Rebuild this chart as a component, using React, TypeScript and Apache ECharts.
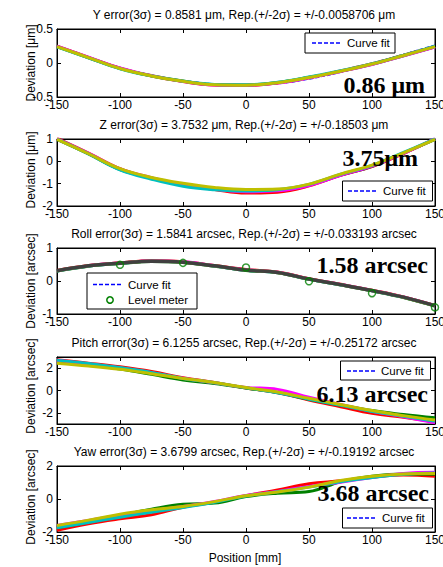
import React, { useEffect, useRef } from "react";
import * as echarts from "echarts";

// ---------- data ----------
const positions = [-150, -125, -100, -75, -50, -25, 0, 25, 50, 75, 100, 125, 150];

const yRed = [0.246, 0.083, -0.076, -0.193, -0.274, -0.324, -0.33, -0.294, -0.216, -0.117, -0.012, 0.113, 0.24];
const yGreen = [0.24, 0.077, -0.082, -0.187, -0.266, -0.317, -0.322, -0.287, -0.21, -0.123, -0.018, 0.107, 0.238];
const yMagenta = [0.248, 0.085, -0.074, -0.185, -0.272, -0.323, -0.329, -0.296, -0.219, -0.125, -0.021, 0.104, 0.236];
const yCyan = [0.238, 0.075, -0.085, -0.192, -0.268, -0.315, -0.32, -0.284, -0.207, -0.115, -0.009, 0.115, 0.246];
const yOlive = [0.242, 0.08, -0.08, -0.19, -0.27, -0.32, -0.326, -0.29, -0.213, -0.12, -0.015, 0.11, 0.241];
const yFit = [0.255, 0.09, -0.066, -0.18, -0.258, -0.308, -0.326, -0.305, -0.235, -0.135, -0.01, 0.125, 0.262];

const zRed = [1.03, 0.37, -0.33, -0.76, -1.05, -1.26, -1.42, -1.38, -1.1, -0.63, -0.24, 0.35, 1.0];
const zGreen = [0.98, 0.33, -0.37, -0.74, -1.03, -1.22, -1.32, -1.3, -1.06, -0.62, -0.22, 0.37, 0.98];
const zMagenta = [1.01, 0.36, -0.34, -0.73, -1.06, -1.25, -1.36, -1.32, -1.08, -0.63, -0.21, 0.36, 1.02];
const zCyan = [0.99, 0.33, -0.38, -0.8, -1.12, -1.27, -1.33, -1.27, -1.03, -0.58, -0.18, 0.4, 1.0];
const zOlive = [0.98, 0.34, -0.33, -0.72, -0.98, -1.17, -1.26, -1.24, -1.02, -0.57, -0.17, 0.38, 0.98];
const zFit = [1.02, 0.36, -0.33, -0.76, -1.05, -1.24, -1.32, -1.29, -1.07, -0.62, -0.22, 0.37, 1.0];

const rollRed = [0.32, 0.47, 0.55, 0.61, 0.58, 0.47, 0.35, 0.27, 0.07, -0.1, -0.28, -0.48, -0.74];
const rollGreen = [0.3, 0.45, 0.53, 0.59, 0.56, 0.45, 0.32, 0.25, 0.05, -0.12, -0.3, -0.5, -0.76];
const rollMagenta = [0.315, 0.465, 0.545, 0.605, 0.58, 0.465, 0.34, 0.265, 0.065, -0.105, -0.285, -0.485, -0.745];
const rollCyan = [0.305, 0.455, 0.535, 0.595, 0.565, 0.455, 0.325, 0.255, 0.055, -0.115, -0.295, -0.495, -0.755];
const rollOlive = [0.31, 0.46, 0.54, 0.6, 0.57, 0.46, 0.33, 0.26, 0.06, -0.11, -0.29, -0.49, -0.75];
const rollGray = [0.31, 0.46, 0.54, 0.6, 0.57, 0.46, 0.33, 0.26, 0.06, -0.11, -0.29, -0.49, -0.75];
const rollFit = [0.3, 0.45, 0.55, 0.59, 0.56, 0.47, 0.34, 0.24, 0.07, -0.12, -0.3, -0.5, -0.74];
const levelPositions = [-100, -50, 0, 50, 100, 150];
const levelMeter = [0.49, 0.55, 0.41, -0.01, -0.37, -0.8];

const pitchRed = [2.75, 2.45, 2.12, 1.7, 1.15, 0.72, 0.22, -0.2, -0.85, -1.45, -2.05, -2.4, -2.8];
const pitchGreen = [2.6, 2.3, 1.92, 1.45, 0.95, 0.62, 0.22, -0.18, -0.78, -1.3, -1.8, -2.15, -2.45];
const pitchMagenta = [2.7, 2.38, 2.02, 1.6, 1.1, 0.7, 0.28, 0.1, -0.6, -1.25, -1.85, -2.35, -2.9];
const pitchCyan = [2.72, 2.42, 2.05, 1.62, 1.08, 0.7, 0.24, -0.2, -0.78, -1.32, -1.88, -2.3, -2.75];
const pitchOlive = [2.45, 2.2, 1.9, 1.5, 1.08, 0.72, 0.26, -0.14, -0.7, -1.25, -1.8, -2.25, -2.65];
const pitchFit = [2.7, 2.36, 1.98, 1.58, 1.12, 0.7, 0.25, -0.2, -0.72, -1.28, -1.84, -2.3, -2.72];

const yawRed = [-1.9, -1.5, -1.2, -0.95, -0.5, -0.2, 0.2, 0.55, 0.92, 1.1, 1.32, 1.45, 1.38];
const yawGreen = [-1.75, -1.4, -1.0, -0.62, -0.32, -0.25, 0.15, 0.35, 0.45, 1.05, 1.38, 1.52, 1.5];
const yawMagenta = [-1.6, -1.3, -0.98, -0.7, -0.45, -0.15, 0.22, 0.46, 0.76, 1.02, 1.3, 1.55, 1.62];
const yawCyan = [-1.75, -1.42, -1.1, -0.8, -0.52, -0.2, 0.18, 0.44, 0.72, 1.05, 1.3, 1.5, 1.58];
const yawOlive = [-1.6, -1.28, -0.92, -0.65, -0.45, -0.16, 0.2, 0.42, 0.72, 1.12, 1.38, 1.52, 1.55];
const yawFit = [-1.7, -1.35, -1.0, -0.7, -0.44, -0.15, 0.2, 0.46, 0.76, 1.08, 1.34, 1.52, 1.58];

const titles = [
  "Y error(3σ) = 0.8581 μm, Rep.(+/-2σ) = +/-0.0058706 μm",
  "Z error(3σ) = 3.7532 μm, Rep.(+/-2σ) = +/-0.18503 μm",
  "Roll error(3σ) = 1.5841 arcsec, Rep.(+/-2σ) = +/-0.033193 arcsec",
  "Pitch error(3σ) = 6.1255 arcsec, Rep.(+/-2σ) = +/-0.25172 arcsec",
  "Yaw error(3σ) = 3.6799 arcsec, Rep.(+/-2σ) = +/-0.19192 arcsec",
];
const annotations = ["0.86 μm", "3.75μm", "1.58 arcsec", "6.13 arcsec", "3.68 arcsec"];
const yNames = ["Deviation [μm]", "Deviation [μm]", "Deviation [arcsec]", "Deviation [arcsec]", "Deviation [arcsec]"];
const xName = "Position [mm]";
const yMins = [-0.5, -2, -1, -3, -2];
const yMaxs = [0.5, 1, 1, 3, 2];
const yIntervals = [0.5, 1, 1, 1, 2];
const pitchTicks = [-2, 0, 2];

// ---------- styles / layout ----------
const RED = "#ff0000";
const GREEN = "#008000";
const MAGENTA = "#ff00ff";
const CYAN = "#00bfbf";
const OLIVE = "#bfbf00";
const GRAY = "#404040";
const BLUE = "#0000ff";
const SANS = "'Liberation Sans', Arial, sans-serif";
const SERIF = "'Liberation Serif', 'Times New Roman', serif";

const gridLeft = 57;
const gridWidth = 378;
const gridTops = [29, 139, 248, 357, 466];
const gridHeights = [68, 67, 66, 67, 66];
const titleYs = [15, 125, 234, 343, 452];
const annoRight = [425, 418, 428, 428, 429];
const annoY = [85, 158, 265, 394, 493];
const yNameX = 31;
const yNameCenters = [63, 170, 281, 386, 497];

const pairs = (xs: number[], vals: number[]) => xs.map((x, i) => [x, vals[i]]);

export default function App() {
  const ref = useRef<HTMLDivElement>(null);
  useEffect(() => {
    document.body.style.margin = "0";
    const chart = echarts.init(ref.current!, null, { renderer: "svg" });

    const runSets = [
      { runs: [yRed, yGreen, yMagenta, yCyan, yOlive], fit: yFit },
      { runs: [zRed, zGreen, zMagenta, zCyan, zOlive], fit: zFit },
      { runs: [rollRed, rollGreen, rollMagenta, rollCyan, rollOlive, rollGray], fit: rollFit },
      { runs: [pitchRed, pitchGreen, pitchMagenta, pitchCyan, pitchOlive], fit: pitchFit },
      { runs: [yawRed, yawGreen, yawMagenta, yawCyan, yawOlive], fit: yawFit },
    ];
    const runColors = [RED, GREEN, MAGENTA, CYAN, OLIVE, GRAY];

    const grid: any[] = [];
    const xAxis: any[] = [];
    const yAxis: any[] = [];
    const series: any[] = [];

    const tickStyle = { show: true, inside: true, length: 4, lineStyle: { color: "#000", width: 1 } };
    const labelStyle = { color: "#000", fontSize: 12, fontFamily: SANS };

    for (let i = 0; i < 5; i++) {
      grid.push({
        left: gridLeft,
        top: gridTops[i],
        width: gridWidth,
        height: gridHeights[i],
        containLabel: false,
        outerBoundsMode: "none",
        show: true,
        borderColor: "#000",
        borderWidth: 1,
        backgroundColor: "#fff",
      });
      xAxis.push({
        type: "value",
        gridIndex: i,
        min: -150,
        max: 150,
        interval: 50,
        position: "bottom",
        axisLine: { show: true, onZero: false, lineStyle: { color: "#000" } },
        axisTick: tickStyle,
        axisLabel: { ...labelStyle, margin: 2 },
        splitLine: { show: false },
      });
      xAxis.push({
        type: "value",
        gridIndex: i,
        min: -150,
        max: 150,
        interval: 50,
        position: "top",
        axisLine: { show: true, onZero: false, lineStyle: { color: "#000" } },
        axisTick: tickStyle,
        axisLabel: { show: false },
        splitLine: { show: false },
      });
      const isPitch = i === 3;
      yAxis.push({
        type: "value",
        gridIndex: i,
        min: yMins[i],
        max: yMaxs[i],
        interval: yIntervals[i],
        position: "left",
        axisLine: { show: true, onZero: false, lineStyle: { color: "#000" } },
        axisTick: isPitch ? { ...tickStyle, customValues: pitchTicks } : tickStyle,
        axisLabel: isPitch
          ? { ...labelStyle, margin: 4, customValues: pitchTicks }
          : { ...labelStyle, margin: 4 },
        splitLine: { show: false },
      });
      yAxis.push({
        type: "value",
        gridIndex: i,
        min: yMins[i],
        max: yMaxs[i],
        interval: yIntervals[i],
        position: "right",
        axisLine: { show: true, onZero: false, lineStyle: { color: "#000" } },
        axisTick: isPitch ? { ...tickStyle, customValues: pitchTicks } : tickStyle,
        axisLabel: { show: false },
        splitLine: { show: false },
      });

      const set = runSets[i];
      series.push({
        type: "line",
        xAxisIndex: 2 * i,
        yAxisIndex: 2 * i,
        data: pairs(positions, set.fit),
        showSymbol: false,
        smooth: 0.4,
        lineStyle: { color: BLUE, width: 1.5, type: [4, 2] },
        z: 2,
        silent: true,
      });
      set.runs.forEach((vals, k) => {
        const color = runColors[k];
        series.push({
          type: "line",
          xAxisIndex: 2 * i,
          yAxisIndex: 2 * i,
          data: pairs(positions, vals),
          showSymbol: false,
          smooth: 0.4,
          lineStyle: { color, width: color === GRAY ? 3.5 : 3 },
          z: 3 + k,
          silent: true,
        });
      });
      if (i === 2) {
        series.push({
          type: "scatter",
          xAxisIndex: 4,
          yAxisIndex: 4,
          data: pairs(levelPositions, levelMeter),
          symbol: "circle",
          symbolSize: 7,
          itemStyle: { color: "rgba(0,0,0,0)", borderColor: GREEN, borderWidth: 1.5 },
          z: 20,
          silent: true,
        });
      }
    }

    const graphic: any[] = [];
    titles.forEach((t, i) => {
      graphic.push({
        type: "text",
        z: 100,
        style: {
          text: t,
          x: 244,
          y: titleYs[i],
          textAlign: "center",
          textVerticalAlign: "middle",
          fill: "#000",
          fontSize: 12,
          fontFamily: SANS,
        },
      });
    });
    yNames.forEach((t, i) => {
      graphic.push({
        type: "text",
        z: 100,
        x: yNameX,
        y: yNameCenters[i],
        rotation: Math.PI / 2,
        style: {
          text: t,
          x: 0,
          y: 0,
          textAlign: "center",
          textVerticalAlign: "middle",
          fill: "#000",
          fontSize: 12,
          fontFamily: SANS,
        },
      });
    });
    graphic.push({
      type: "text",
      z: 100,
      style: {
        text: xName,
        x: 245,
        y: 558,
        textAlign: "center",
        textVerticalAlign: "middle",
        fill: "#000",
        fontSize: 12,
        fontFamily: SANS,
      },
    });
    annotations.forEach((t, i) => {
      graphic.push({
        type: "text",
        z: 100,
        style: {
          text: t,
          x: annoRight[i],
          y: annoY[i],
          textAlign: "right",
          textVerticalAlign: "middle",
          fill: "#000",
          fontSize: 24,
          fontWeight: "bold",
          fontFamily: SERIF,
        },
      });
    });

    const legendBox = (x: number, y: number, w: number, h: number) => ({
      type: "rect",
      z: 100,
      shape: { x, y, width: w, height: h },
      style: { fill: "#fff", stroke: "#000", lineWidth: 1 },
    });
    const legendLine = (x: number, y: number) => ({
      type: "line",
      z: 101,
      shape: { x1: x, y1: y, x2: x + 30, y2: y },
      style: { stroke: BLUE, lineWidth: 1.5, lineDash: [4, 2] },
    });
    const legendText = (t: string, x: number, y: number) => ({
      type: "text",
      z: 101,
      style: {
        text: t,
        x,
        y,
        textAlign: "left",
        textVerticalAlign: "middle",
        fill: "#000",
        fontSize: 11.5,
        fontFamily: SANS,
      },
    });

    // panel 1 legend
    graphic.push(legendBox(305, 33, 90, 20), legendLine(312, 43), legendText("Curve fit", 347, 43));
    // panel 2 legend
    graphic.push(legendBox(342.5, 181, 90, 20), legendLine(348, 191), legendText("Curve fit", 383, 191));
    // panel 3 legend
    graphic.push(
      legendBox(87, 273, 110, 36),
      legendLine(93, 284.5),
      legendText("Curve fit", 128, 284.5),
      {
        type: "circle",
        z: 101,
        shape: { cx: 110, cy: 300, r: 3.2 },
        style: { fill: "none", stroke: GREEN, lineWidth: 1.5 },
      },
      legendText("Level meter", 128, 300)
    );
    // panel 4 legend
    graphic.push(legendBox(340.5, 361, 90, 19), legendLine(347, 371), legendText("Curve fit", 381, 371));
    // panel 5 legend
    graphic.push(legendBox(342.5, 508, 90, 20), legendLine(347, 518), legendText("Curve fit", 382, 518));

    chart.setOption({
      animation: false,
      backgroundColor: "#fff",
      grid,
      xAxis,
      yAxis,
      series,
      graphic,
    });
    return () => chart.dispose();
  }, []);
  return <div ref={ref} style={{ width: 443, height: 567 }} />;
}
